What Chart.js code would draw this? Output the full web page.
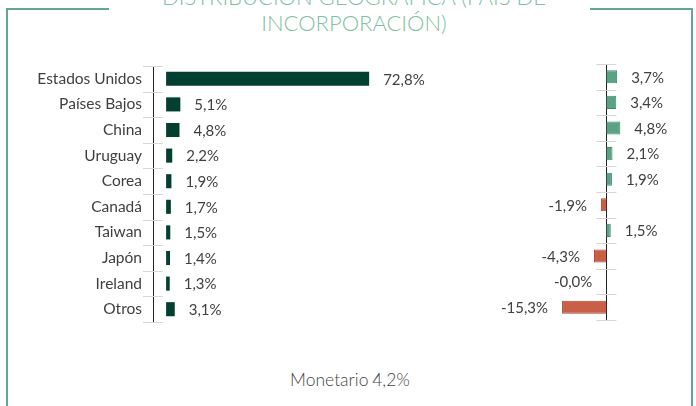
<!DOCTYPE html>
<html>
<head>
<meta charset="utf-8">
<script src="https://cdn.jsdelivr.net/npm/chart.js@4.4.0/dist/chart.umd.min.js"></script>
<style>
  body { margin: 0; width: 696px; height: 406px; position: relative; overflow: hidden; background: #fff; font-family: Lato, sans-serif; }
  .line { position: absolute; background: #62a98c; }
  #title { position: absolute; left: 4px; width: 700px; top: -16px; text-align: center; font-size: 22px; line-height: 26px; font-weight: 300; color: #7fbfa4; }
  #foot { position: absolute; left: 0; width: 700px; top: 370px; text-align: center; font-size: 17.5px; line-height: 20px; font-weight: 300; color: #444; word-spacing: -1px; }
  canvas { position: absolute; top: 0; }
</style>
</head>
<body>
<div class="line" style="left:6px;top:8px;width:2px;height:400px"></div>
<div class="line" style="left:6px;top:8px;width:103px;height:2px"></div>
<div class="line" style="left:590px;top:8px;width:103px;height:2px"></div>
<div class="line" style="left:691px;top:8px;width:2px;height:400px"></div>
<div id="title">DISTRIBUCIÓN GEOGRÁFICA (PAÍS DE<br>INCORPORACIÓN)</div>
<div id="foot">Monetario 4,2%</div>
<canvas id="pesoChart" width="445" height="406" style="left:0"></canvas>
<canvas id="difChart" width="216" height="406" style="left:480px"></canvas>
<script>
const paises = ['Estados Unidos', 'Países Bajos', 'China', 'Uruguay', 'Corea', 'Canadá', 'Taiwan', 'Japón', 'Ireland', 'Otros'];
const peso = [72.8, 5.1, 4.8, 2.2, 1.9, 1.7, 1.5, 1.4, 1.3, 3.1];
const diferencia = [3.7, 3.4, 4.8, 2.1, 1.9, -1.9, 1.5, -4.3, -0.04, -15.3];

const fmt = v => v.toFixed(1).replace('.', ',') + '%';

// etiquetas de valor al final de cada barra
const valueLabels = {
    id: 'valueLabels',
    afterDatasetsDraw(chart) {
        const c = chart.ctx;
        const data = chart.data.datasets[0].data;
        c.save();
        c.font = '15px Lato';
        c.fillStyle = '#404040';
        c.textBaseline = 'middle';
        chart.getDatasetMeta(0).data.forEach((bar, i) => {
            const v = data[i];
            if (v >= 0) {
                c.textAlign = 'left';
                c.fillText(fmt(v), bar.x + 14, bar.y + 1);
            } else {
                c.textAlign = 'right';
                c.fillText(fmt(v), bar.x - 14, bar.y + 1);
            }
        });
        c.restore();
    }
};

// marcas cruzadas entre categorias
const crossTicks = {
    id: 'crossTicks',
    afterDraw(chart) {
        const c = chart.ctx;
        const y = chart.scales.y;
        const x0 = chart.options.plugins.crossTicks.atZero ? chart.scales.x.getPixelForValue(0) : chart.chartArea.left;
        c.save();
        c.strokeStyle = '#d6d6d6';
        c.lineWidth = 1;
        for (let i = 0; i <= paises.length; i++) {
            const py = Math.round(y.getPixelForValue(i - 0.5)) + 0.5;
            c.beginPath();
            c.moveTo(x0 - 10, py);
            c.lineTo(x0 + 10, py);
            c.stroke();
        }
        c.restore();
    }
};

new Chart(document.getElementById('pesoChart'), {
    type: 'bar',
    data: {
        labels: paises,
        datasets: [{ data: peso, backgroundColor: '#033f30', barPercentage: 0.55, categoryPercentage: 1 }]
    },
    options: {
        responsive: false,
        animation: false,
        indexAxis: 'y',
        layout: { padding: { top: 66, bottom: 84, left: 0, right: 0 } },
        plugins: { legend: { display: false }, tooltip: { enabled: false }, crossTicks: { atZero: false } },
        scales: {
            x: { display: false, min: -4.7, max: 100 },
            y: {
                grid: { drawOnChartArea: false, drawTicks: false, color: 'transparent' },
                border: { color: '#222', width: 1 },
                ticks: { color: '#404040', font: { family: 'Lato', size: 15.5 }, padding: 11 },
                afterFit: s => { s.width = 153; }
            }
        }
    },
    plugins: [valueLabels, crossTicks]
});

new Chart(document.getElementById('difChart'), {
    type: 'bar',
    data: {
        labels: paises,
        datasets: [{
            data: diferencia,
            backgroundColor: diferencia.map(v => v >= 0 ? '#5aa284' : '#c85f46'),
            borderColor: diferencia.map(v => v >= 0 ? '#3f8a6d' : '#a84a35'),
            borderWidth: 1,
            barPercentage: 0.51,
            categoryPercentage: 1
        }]
    },
    options: {
        responsive: false,
        animation: false,
        indexAxis: 'y',
        layout: { padding: { top: 64, bottom: 86, left: 0, right: 0 } },
        plugins: { legend: { display: false }, tooltip: { enabled: false }, crossTicks: { atZero: true } },
        scales: {
            x: { display: false, min: -43.6, max: 30.9 },
            y: {
                position: { x: 0 },
                grid: { drawOnChartArea: false, drawTicks: false, color: 'transparent' },
                border: { color: '#222', width: 1 },
                ticks: { display: false }
            }
        }
    },
    plugins: [valueLabels, crossTicks]
});
</script>
</body>
</html>
